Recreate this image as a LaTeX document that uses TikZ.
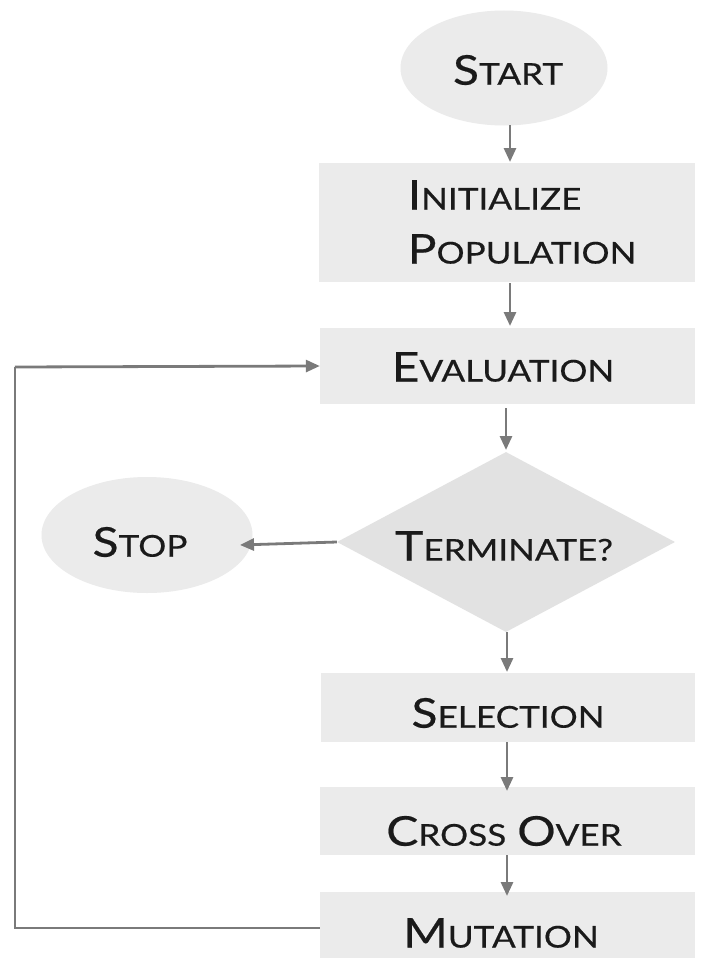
\documentclass[tikz,border=0pt]{standalone}
\usepackage{fontspec}
\setmainfont{Lato}[FakeStretch=1.17,FakeBold=0.5]
\usetikzlibrary{shapes.geometric,arrows.meta}
\definecolor{boxfill}{HTML}{EBEBEB}
\definecolor{linecol}{HTML}{7A7A7A}
\definecolor{txtcol}{HTML}{1A1A1A}
\newcommand\bigL[1]{{\fontsize{41}{54}\selectfont #1}}
\newcommand\smL[1]{{\fontsize{30}{54}\selectfont #1}}
\begin{document}
\begin{tikzpicture}[x=1pt,y=-1pt,
  box/.style={rectangle,fill=boxfill,inner sep=0pt,text=txtcol},
  oval/.style={ellipse,fill=boxfill,inner sep=0pt,text=txtcol},
  txt/.style={inner sep=0pt,text=txtcol,font=\fontsize{41}{54}\selectfont},
  conn/.style={draw=linecol,line width=2.8pt,-{Triangle[length=14pt,width=12pt]}},
  plain/.style={draw=linecol,line width=2.8pt}]
\fill[white] (0,0) rectangle (701,958);
\useasboundingbox (0,0) rectangle (701,958);
% nodes
\node[oval,minimum width=207pt,minimum height=115pt] (start) at (504,68) {};
\node[txt] (startT) at (508,70) {\bigL{S}\smL{TART}};
\node[box,minimum width=376pt,minimum height=119pt] (init) at (507,222.5) {};
\node[txt,align=left] (initT) at (522,222) {\bigL{I}\smL{NITIALIZE}\\\bigL{P}\smL{OPULATION}};
\node[box,minimum width=375pt,minimum height=76pt] (eval) at (507.5,366) {};
\node[txt] (evalT) at (503,367) {\bigL{E}\smL{VALUATION}};
\node[diamond,fill=boxfill!96!black,inner sep=0pt,minimum width=338pt,minimum height=180pt,aspect=1.88] (term) at (506,542) {};
\node[txt] (termT) at (504,546) {\bigL{T}\smL{ERMINATE?}};
\node[oval,minimum width=211pt,minimum height=116pt] (stop) at (147,535) {};
\node[txt] (stopT) at (140,542) {\bigL{S}\smL{TOP}};
\node[box,minimum width=374pt,minimum height=69pt] (sel) at (508,707.5) {};
\node[txt] (selT) at (508,713) {\bigL{S}\smL{ELECTION}};
\node[box,minimum width=375pt,minimum height=68pt] (cross) at (507.5,821) {};
\node[txt] (crossT) at (504,831) {\bigL{C}\smL{ROSS}\hspace{11pt}\bigL{O}\smL{VER}};
\node[box,minimum width=375pt,minimum height=68pt,anchor=north] (mut) at (507.5,892) {};
\node[txt] (mutT) at (501,933) {\bigL{M}\smL{UTATION}};
\coordinate (lt) at (15,367);
\coordinate (lb) at (15,928);
% connectors
\draw[conn] (510,125) -- (510,162);
\draw[conn] (510,283) -- (510,326);
\draw[conn] (506,408) -- (506,450);
\draw[conn] (term.west) -- (240,545);
\draw[conn] (507,632) -- (507,672);
\draw[conn] (507,742) -- (507,791);
\draw[conn] (507,855) -- (507,896);
\draw[plain] (mut.west |- lb) -- (lb) -- (lt);
\draw[conn] (lt) -- (eval.west);
\end{tikzpicture}
\end{document}
